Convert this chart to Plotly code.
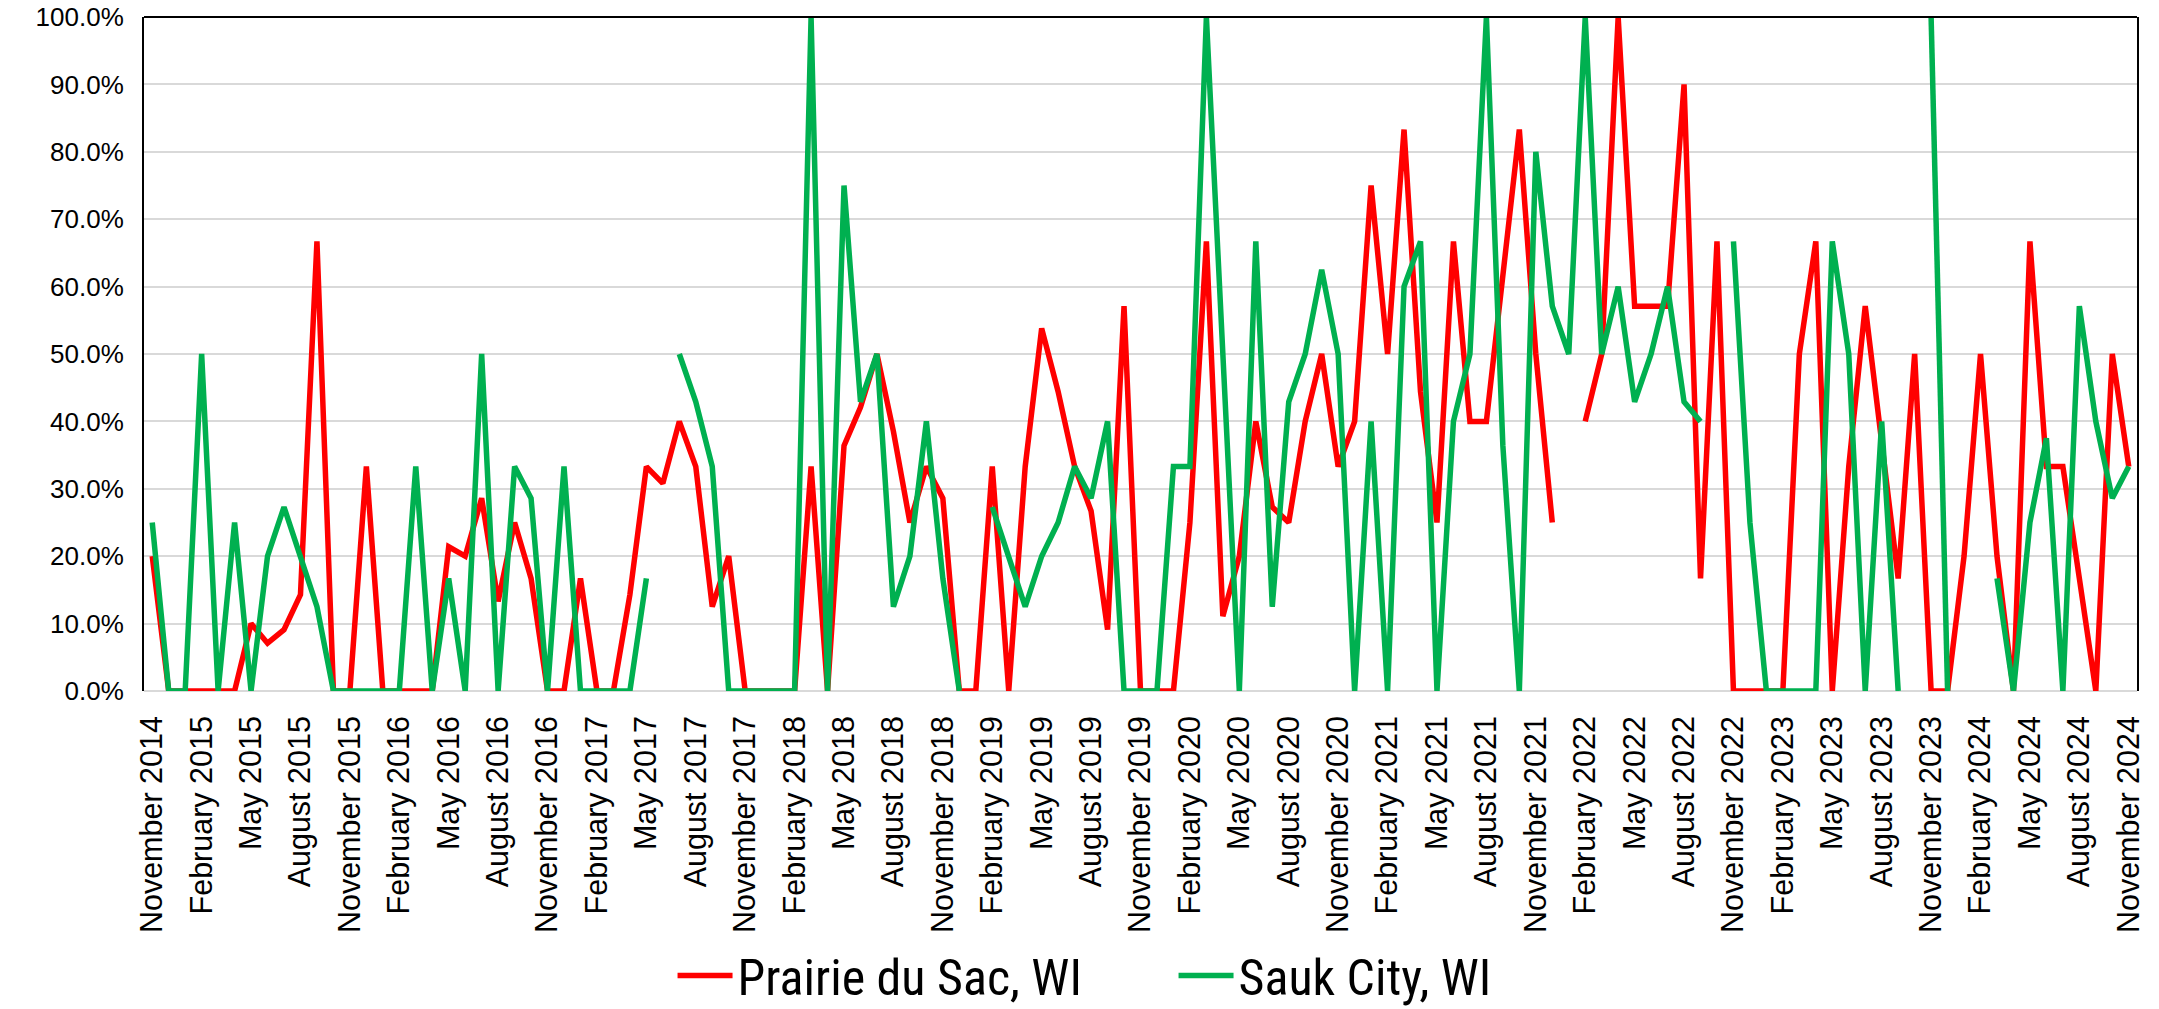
import plotly.graph_objects as go

month_names = ["January", "February", "March", "April", "May", "June", "July",
               "August", "September", "October", "November", "December"]
# Monthly categories November 2014 .. November 2024
categories = []
_m, _y = 10, 2014
while (_y, _m) <= (2024, 10):
    categories.append(f"{month_names[_m]} {_y}")
    _m += 1
    if _m == 12:
        _m, _y = 0, _y + 1

prairie_du_sac = [
    20, 0, 0, 0, 0, 0, 10, 7.1, 9.1, 14.3, 66.7, 0, 0, 33.3, 0, 0, 0, 0, 21.4, 20,
    28.6, 13.3, 25, 16.7, 0, 0, 16.7, 0, 0, 14.3, 33.3, 30.8, 40, 33.3, 12.5, 20, 0, 0, 0, 0,
    33.3, 0, 36.4, 42.1, 50, 38.5, 25, 33.3, 28.6, 0, 0, 33.3, 0, 33.3, 53.8, 44.4, 33.3, 26.7, 9.1, 57.1,
    0, 0, 0, 25, 66.7, 11.1, 20, 40, 27.3, 25, 40, 50, 33.3, 40, 75, 50, 83.3, 44.4, 25, 66.7,
    40, 40, 62.5, 83.3, 50, 25, None, 40, 50, 100, 57.1, 57.1, 57.1, 90, 16.7, 66.7, 0, 0, 0, 0,
    50, 66.7, 0, 33.3, 57.1, 36.4, 16.7, 50, 0, 0, 20, 50, 20, 0, 66.7, 33.3, 33.3, 16.7, 0, 50,
    33.3,
]

sauk_city = [
    25, 0, 0, 50, 0, 25, 0, 20, 27.3, 20, 12.5, 0, 0, 0, 0, 0, 33.3, 0, 16.7, 0,
    50, 0, 33.3, 28.6, 0, 33.3, 0, 0, 0, 0, 16.7, None, 50, 42.9, 33.3, 0, 0, 0, 0, 0,
    100, 0, 75, 42.9, 50, 12.5, 20, 40, 16.7, 0, None, 27.3, 20, 12.5, 20, 25, 33.3, 28.6, 40, 0,
    0, 0, 33.3, 33.3, 100, 50, 0, 66.7, 12.5, 42.9, 50, 62.5, 50, 0, 40, 0, 60, 66.7, 0, 40,
    50, 100, 36.4, 0, 80, 57.1, 50, 100, 50, 60, 42.9, 50, 60, 42.9, 40, None, 66.7, 25, 0, 0,
    0, 0, 66.7, 50, 0, 40, 0, None, 100, 0, None, None, 16.7, 0, 25, 37.5, 0, 57.1, 40, 28.6,
    33.3,
]

series_names = ["Prairie du Sac, WI", "Sauk City, WI"]
series_colors = ["#FF0000", "#00B050"]
tick_labels = categories[::3]

fig = go.Figure()
for name, vals, col in zip(series_names, [prairie_du_sac, sauk_city], series_colors):
    fig.add_trace(go.Scatter(
        x=categories, y=vals, name=name, mode="lines",
        line=dict(color=col, width=5.5),
        connectgaps=False,
    ))

font_family = "Liberation Sans, Arial, sans-serif"
legend_family = "Liberation Sans Narrow, Arial Narrow, Roboto Condensed, Liberation Sans, sans-serif"

fig.update_layout(
    width=2159, height=1009,
    margin=dict(l=144, r=22, t=17, b=318, autoexpand=False),
    paper_bgcolor="white", plot_bgcolor="white",
    font=dict(family=font_family, color="black"),
    showlegend=True,
    legend=dict(
        orientation="h", x=0.2652, xanchor="left", y=-0.422, yanchor="middle",
        font=dict(size=50, family=legend_family, color="black"),
        itemwidth=55, entrywidth=431, tracegroupgap=0,
        bgcolor="rgba(0,0,0,0)",
    ),
)

# category axis with half-category padding on both ends (points between tick marks)
fig.update_xaxes(
    type="category",
    categoryorder="array", categoryarray=categories,
    range=[-0.5, len(categories) - 0.5],
    tickmode="array", tickvals=tick_labels, ticktext=tick_labels,
    tickangle=-90,
    tickfont=dict(size=30.5, family=font_family, color="black"),
    showgrid=False, showline=False, zeroline=False,
    ticks="", ticklabelstandoff=18, automargin=False,
)

fig.update_yaxes(
    range=[0, 100], dtick=10, tick0=0,
    tickformat=".1f", ticksuffix="%",
    tickfont=dict(size=26, family=font_family, color="black"),
    showgrid=True, gridcolor="#D9D9D9", gridwidth=1.5,
    showline=True, linecolor="black", linewidth=2, mirror=True,
    zeroline=True, zerolinecolor="#D9D9D9", zerolinewidth=1.5,
    ticks="", ticklabelstandoff=13, automargin=False,
)

fig.add_shape(type="line", xref="paper", yref="paper", x0=0, x1=1, y0=1, y1=1,
              line=dict(color="black", width=2))

fig.write_html("out.html", config={"displayModeBar": False},
               post_script="document.body.style.margin='0px';")
